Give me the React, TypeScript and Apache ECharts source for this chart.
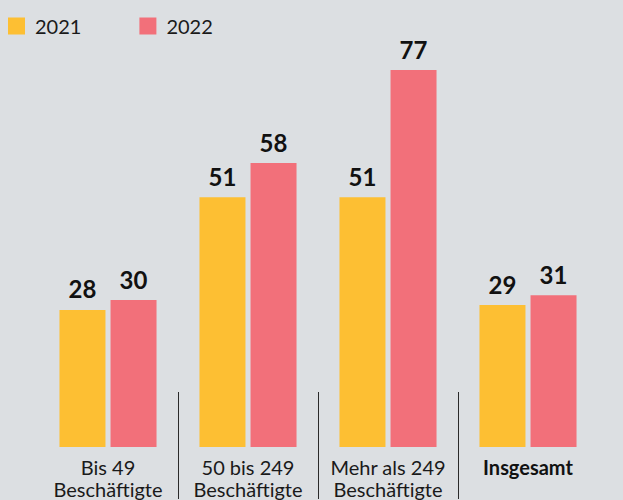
import React, { useEffect, useRef } from "react";
import * as echarts from "echarts";

const categories = ["Bis 49\nBeschäftigte", "50 bis 249\nBeschäftigte", "Mehr als 249\nBeschäftigte", "Insgesamt"];
const values2021 = [28, 51, 51, 29];
const values2022 = [30, 58, 77, 31];
const seriesNames = ["2021", "2022"];
const separatorIndices = [1, 2, 3];

const FONT = "Lato, 'Noto Sans', sans-serif";

export default function App() {
  const ref = useRef<HTMLDivElement>(null);
  useEffect(() => {
    document.body.style.margin = "0";
    const chart = echarts.init(ref.current!, null, { renderer: "svg" });
    const labelCfg = {
      show: true,
      position: "top",
      distance: 9,
      fontFamily: FONT,
      fontSize: 24,
      fontWeight: "bold",
      color: "#111",
    };
    chart.setOption({
      animation: false,
      backgroundColor: "#dcdfe2",
      textStyle: { fontFamily: FONT },
      legend: {
        left: 8,
        top: 16,
        padding: 0,
        icon: "rect",
        itemWidth: 17,
        itemHeight: 17,
        itemGap: 58,
        data: seriesNames,
        textStyle: { fontFamily: FONT, fontSize: 20, color: "#1a1a1a", padding: [0, 0, 0, 5] },
      },
      grid: { left: 38, right: 25, top: 70, bottom: 52 },
      xAxis: {
        type: "category",
        data: categories,
        axisLine: { show: false },
        axisTick: { show: false },
        axisLabel: {
          interval: 0,
          margin: 9,
          fontFamily: FONT,
          fontSize: 20,
          lineHeight: 22,
          color: "#1a1a1a",
          formatter: (v: string) => (v === "Insgesamt" ? "{b|" + v + "}" : v),
          rich: {
            b: { fontFamily: FONT, fontSize: 20, fontWeight: "bold", color: "#111", lineHeight: 22 },
          },
        },
      },
      yAxis: { type: "value", min: 0, max: 77, show: false, splitLine: { show: false } },
      series: [
        {
          name: seriesNames[0],
          type: "bar",
          data: values2021,
          barWidth: 46,
          barGap: "11%",
          itemStyle: { color: "#fdbf33" },
          label: labelCfg,
        },
        {
          name: seriesNames[1],
          type: "bar",
          data: values2022,
          barWidth: 46,
          barGap: "11%",
          itemStyle: { color: "#f2707a" },
          label: labelCfg,
        },
        {
          type: "custom",
          clip: false,
          silent: true,
          encode: { x: 0, y: 1 },
          data: separatorIndices.map((i) => [i, 0]),
          renderItem: (params: any, api: any) => {
            const idx = api.value(0);
            const c = api.coord([idx, 0]);
            const w = api.size([1, 0])[0];
            const x = Math.round(c[0] - w / 2) + 0.5;
            return {
              type: "line",
              shape: { x1: x, y1: c[1] - 55, x2: x, y2: c[1] + 52 },
              style: { stroke: "#2a2a2a", lineWidth: 1 },
            };
          },
        },
      ],
    });
    return () => chart.dispose();
  }, []);
  return <div ref={ref} style={{ position: "absolute", left: 0, top: 0, width: 623, height: 500 }} />;
}
